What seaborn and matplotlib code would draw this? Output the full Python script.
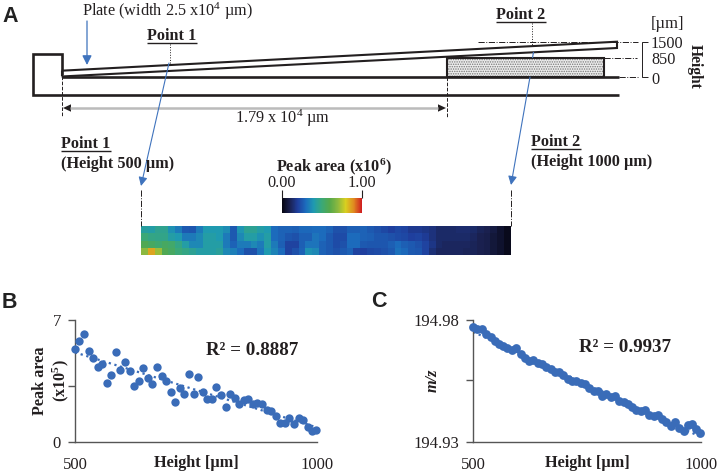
import numpy as np
import matplotlib as mpl
mpl.use('Agg')
import matplotlib.pyplot as plt
import seaborn as sns
from matplotlib.colors import LinearSegmentedColormap
from matplotlib.patches import Rectangle

# data
heights = [500, 509, 519, 528, 538, 547, 556, 566, 575, 585, 594, 604, 613, 622, 632, 641, 651, 660,
           670, 679, 688, 698, 707, 717, 726, 736, 745, 754, 764, 773, 783, 792, 802, 811, 820, 830,
           839, 849, 858, 868, 877, 886, 896, 905, 915, 924, 934, 943, 952, 962, 971, 981, 990, 998]
peak_area = [5.33, 5.80, 6.16, 5.21, 4.79, 4.28, 4.49, 3.37, 3.86, 5.14, 4.13, 4.60, 4.05, 3.20, 3.52, 4.22, 3.69, 3.33,
             4.32, 3.80, 3.52, 2.89, 2.32, 3.12, 2.78, 3.88, 2.76, 3.71, 2.85, 2.47, 2.47, 3.16, 2.68, 2.00, 2.78, 2.55,
             2.17, 2.42, 2.45, 2.19, 2.24, 2.17, 1.83, 1.77, 1.50, 1.12, 1.12, 1.41, 1.05, 1.41, 1.29, 0.89, 0.65, 0.72]
mz = [194.9769, 194.9761, 194.9763, 194.9743, 194.9729, 194.9713, 194.9702, 194.9694, 194.9683, 194.9676, 194.9683,
      194.9660, 194.9645, 194.9633, 194.9637, 194.9625, 194.9618, 194.9608, 194.9599, 194.9585, 194.9588, 194.9574,
      194.9557, 194.9551, 194.9550, 194.9543, 194.9536, 194.9520, 194.9511, 194.9509, 194.9490, 194.9497, 194.9483,
      194.9489, 194.9470, 194.9463, 194.9455, 194.9445, 194.9432, 194.9429, 194.9432, 194.9411, 194.9409, 194.9410,
      194.9395, 194.9384, 194.9367, 194.9382, 194.9360, 194.9348, 194.9371, 194.9373, 194.9354, 194.9339]

row0 = [.43, .42, .46, .46, .38, .33, .26, .25, .33, .40, .40, .40, .37, .26, .39, .45, .45, .42,
        .40, .30, .28, .28, .27, .29, .29, .30, .30, .28, .24, .24, .27, .27, .28, .26, .24, .22,
        .20, .22, .21, .18, .18, .17, .16, .13, .13, .13, .14, .14, .13, .11, .10, .08, .05, .02]
row1 = [.50, .48, .47, .47, .42, .40, .33, .33, .36, .42, .42, .40, .33, .26, .36, .42, .42, .38,
        .42, .30, .28, .25, .24, .27, .27, .32, .30, .26, .23, .23, .30, .30, .28, .27, .25, .25,
        .24, .23, .22, .20, .21, .19, .16, .13, .13, .13, .13, .13, .12, .10, .09, .07, .05, .02]
row2 = [.58, .55, .52, .55, .53, .48, .42, .36, .36, .42, .42, .42, .33, .28, .33, .33, .36, .33,
        .42, .33, .27, .21, .21, .27, .32, .32, .28, .26, .23, .24, .30, .30, .26, .25, .25, .25,
        .27, .30, .27, .26, .24, .21, .17, .13, .12, .12, .12, .12, .11, .10, .09, .07, .05, .02]
row3 = [.70, .86, .72, .58, .55, .50, .48, .45, .42, .42, .42, .44, .36, .34, .30, .24, .24, .32,
        .40, .35, .30, .21, .24, .28, .38, .36, .28, .26, .24, .26, .28, .21, .20, .22, .23, .24,
        .26, .31, .29, .26, .25, .21, .15, .12, .12, .12, .12, .11, .11, .10, .09, .07, .05, .02]

map_colors = ['#05050f', '#1a2150', '#1f3f9e', '#1c6cbd', '#1f9ab0', '#3aa878',
              '#55a84a', '#8ab840', '#d8d020', '#e08a20', '#d02020']

W, H = 718, 473
BLUE = '#3a6cb8'
ARROW = '#3f73bd'
INK = '#231f20'

sns.set_theme(style='white')
plt.rcParams['font.family'] = ['Liberation Serif', 'DejaVu Serif']
plt.rcParams['mathtext.fontset'] = 'custom'
plt.rcParams['mathtext.rm'] = 'Liberation Serif'
plt.rcParams['mathtext.bf'] = 'Liberation Serif:bold'
plt.rcParams['mathtext.default'] = 'regular'
plt.rcParams['hatch.linewidth'] = 0.7
plt.rcParams['text.color'] = INK

fig = plt.figure(figsize=(W / 100, H / 100), dpi=100)


def px_axes(left, top, right, bottom):
    return fig.add_axes([left / W, 1 - bottom / H, (right - left) / W, (bottom - top) / H])


# overlay in pixel coordinates for the schematic
ov = fig.add_axes([0, 0, 1, 1], zorder=5)
ov.set_xlim(0, W)
ov.set_ylim(H, 0)
ov.axis('off')


def line(xs, ys, color=INK, lw=1.6, ls='-'):
    ov.plot(xs, ys, color=color, lw=lw, ls=ls, solid_capstyle='butt', solid_joinstyle='miter')


def arrow(x0, y0, x1, y1, color=ARROW, lw=0.9, scale=14):
    ov.annotate('', xy=(x1, y1), xytext=(x0, y0),
                arrowprops=dict(arrowstyle='-|>', color=color, lw=lw, mutation_scale=scale,
                                shrinkA=0, shrinkB=0))


def label(x, y, s, size=11.7, ha='left', **kw):
    ov.text(x, y, s, fontsize=size, ha=ha, va='center', **kw)


# panel letters
for x, y, s in [(2, 16.5, 'A'), (2, 302.5, 'B'), (371, 301.5, 'C')]:
    ov.text(x, y, s, fontsize=15.5, fontweight='bold', family='Liberation Sans', color='#222222',
            ha='left', va='center')

# stage and plate
line([61.5, 61.5, 33, 33, 619], [75, 54, 54, 95, 95], lw=1.9)
line([61.5, 619], [77, 77], lw=1.9)
line([61.5, 617, 617, 61.5], [70.7, 41.7, 48, 76.5], lw=1.5)
line([61.5, 61.5], [70.7, 76.5], lw=1.5)
ov.add_patch(Rectangle((447, 58.5), 157, 18.5, facecolor='#ececec', edgecolor='#777777', hatch='.......', lw=0))
ov.add_patch(Rectangle((447, 58.5), 157, 18.5, fill=False, edgecolor=INK, lw=1.5))

label(82, 11, r'Plate (width 2.5 x10$^{4}$ µm)')
arrow(87, 21, 87, 65)

# points on the plate
label(147, 36, 'Point 1', fontweight='bold')
line([147, 197], [43.5, 43.5], lw=1.0)
line([169.5, 169.5], [44, 63], lw=0.7, ls=':')
arrow(169, 63, 141, 186, lw=0.8, scale=13)

label(496, 15, 'Point 2', fontweight='bold')
line([496, 546], [22, 22], lw=1.0)
line([532, 532], [23, 45], lw=0.7, ls=':')
line([533.5, 532.5], [52, 58], color=ARROW, lw=0.8)
arrow(530, 77, 511, 185, lw=0.8, scale=13)

# distance arrow
line([61.5, 61.5], [76, 117], lw=0.7, ls='--')
line([447, 447], [77, 118], lw=0.7, ls='--')
line([70, 438], [108, 108], color='#bbbbbb', lw=1.8)
ov.fill([63, 71, 71], [108, 104.3, 111.7], color=INK, lw=0)
ov.fill([446, 438, 438], [108, 104.3, 111.7], color=INK, lw=0)
label(282, 118, r'1.79 x 10$^{4}$ µm', ha='center')

# height scale
line([478, 638], [41.7, 41.7], lw=0.7, ls='-.')
line([604, 637], [58, 58], lw=0.7, ls='-.')
line([619, 638], [77, 77], lw=0.7, ls='-.')
line([648, 642, 642, 648], [41.7, 41.7, 77, 77], lw=0.7)
label(651, 24, '[µm]', size=12)
label(651, 44, '1500')
label(651, 60, '850')
label(651, 80, '0')
ov.text(695, 66, 'Height', fontsize=11.2, fontweight='bold', rotation=270, ha='center', va='center')

# callouts above the heatmap
label(61, 144, 'Point 1', fontweight='bold')
line([61, 111], [150.7, 150.7], lw=1.0)
label(61, 164, '(Height 500 µm)', fontweight='bold')
label(531, 142, 'Point 2', fontweight='bold')
line([531, 581], [148.7, 148.7], lw=1.0)
label(531, 162, '(Height 1000 µm)', fontweight='bold')
label(334, 167, r'Peak area (x10$^{\mathbf{6}}$)', ha='center', fontweight='bold')
label(282, 183, '0.00', ha='center')
label(362, 183, '1.00', ha='center')
line([282, 282], [190, 198], lw=0.8)
line([361.5, 361.5], [190, 198], lw=0.8)
line([141, 141], [190, 226], lw=0.7, ls='-.')
line([511, 511], [190, 226], lw=0.7, ls='-.')

# heatmap with its colour bar
cmap = LinearSegmentedColormap.from_list('peak', map_colors)
hm_ax = px_axes(141, 226, 511, 255.5)
cb_ax = px_axes(281.7, 197.7, 361.7, 213.3)
sns.heatmap(np.array([row0, row1, row2, row3]), ax=hm_ax, cmap=cmap, vmin=0, vmax=1,
            xticklabels=False, yticklabels=False, cbar_ax=cb_ax,
            cbar_kws={'orientation': 'horizontal', 'ticks': []})
hm_ax.collections[0].colorbar.outline.set_visible(False)


# scatter panels
def scatter_panel(ax, y, ylim, mid, ytick_labels, dot):
    sns.regplot(x=heights, y=y, ax=ax, ci=None, color=BLUE,
                scatter_kws={'s': dot, 'alpha': 1, 'linewidths': 0, 'clip_on': False, 'zorder': 3},
                line_kws={'linestyle': ':', 'linewidth': 1.6, 'color': BLUE})
    ax.set_xlim(500, 1000)
    ax.set_ylim(*ylim)
    ax.set_xticks([500, 1000], ['500', '1000'])
    ax.set_yticks([ylim[0], mid, ylim[1]], ytick_labels)
    ax.patch.set_alpha(0)
    sns.despine(ax=ax)
    for side in ['left', 'bottom']:
        ax.spines[side].set_color('#555555')
        ax.spines[side].set_linewidth(1.0)
    ax.tick_params(axis='y', left=True, length=5, width=1, color='#555555', labelsize=12, pad=5, labelcolor=INK)
    ax.tick_params(axis='x', bottom=False, labelsize=12, pad=4.5, labelcolor=INK)
    ax.set_xlabel('Height [µm]', fontsize=11.7, fontweight='bold', color=INK)
    ax.xaxis.set_label_coords(0.5, -0.105)


ax_b = px_axes(75, 319.7, 317, 442.3)
scatter_panel(ax_b, peak_area, (0, 7), 3.2, ['0', '', '7'], 36)
label(40, 381, 'Peak area', ha='center', fontweight='bold', rotation=90)
label(61, 381, r'(x10$^{\mathbf{5}}$)', ha='center', fontweight='bold', rotation=90)
label(205.5, 350, 'R² = 0.8887', fontweight='bold', size=13.7)

ax_c = px_axes(473.3, 319.7, 701, 442.3)
scatter_panel(ax_c, mz, (194.93, 194.98), 194.9555, ['194.93', '', '194.98'], 40)
label(433, 380, 'm/z', ha='center', fontweight='bold', style='italic', rotation=90)
label(579, 347, 'R² = 0.9937', fontweight='bold', size=13.7)

fig.savefig('out.png', dpi=100)
